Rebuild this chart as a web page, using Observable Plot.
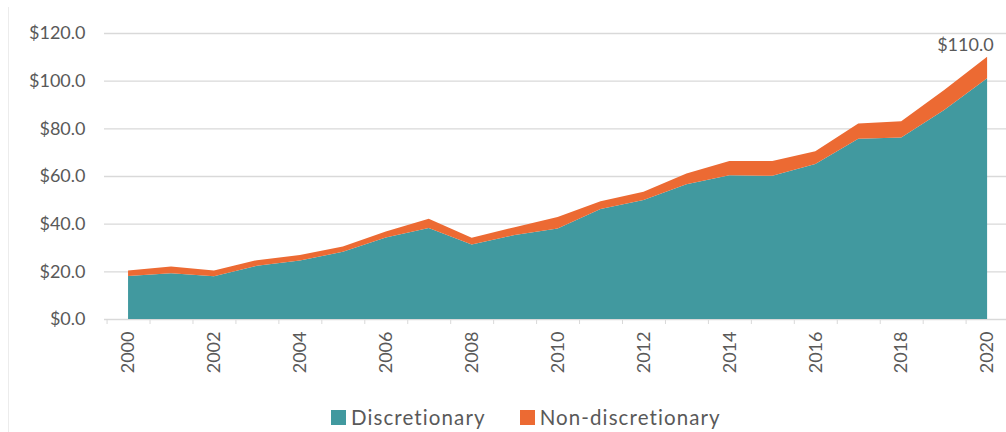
<!DOCTYPE html>
<html>
<head>
<meta charset="utf-8">
<script src="https://cdn.jsdelivr.net/npm/d3@7"></script>
<script src="https://cdn.jsdelivr.net/npm/@observablehq/plot@0.6"></script>
<style>
  html, body { margin: 0; padding: 0; background: #fff; }
  #wrap { position: relative; width: 1006px; height: 432px; overflow: hidden; font-family: Lato, "Open Sans", sans-serif; }
  #frame { position: absolute; left: 8px; top: 7px; width: 0; height: 425px; border-left: 1px solid #ececec; }
  #chart { position: absolute; left: 0; top: 0; }
  #legend { position: absolute; top: 405px; left: 331px; display: flex; align-items: center; font-size: 20.5px; letter-spacing: 1.1px; color: #595959; }
  #legend .item { display: flex; align-items: center; margin-right: 34px; }
  #legend .sw { width: 15px; height: 15px; margin-right: 5px; }
</style>
</head>
<body>
<div id="wrap">
  <div id="frame"></div>
  <div id="chart"></div>
  <div id="legend"></div>
</div>
<script>
// Spending by year, in billions of dollars
const years = [2000, 2001, 2002, 2003, 2004, 2005, 2006, 2007, 2008, 2009, 2010,
               2011, 2012, 2013, 2014, 2015, 2016, 2017, 2018, 2019, 2020];
const discretionary = [18.0, 19.2, 17.9, 22.3, 24.5, 28.2, 34.2, 38.2, 31.3, 35.2, 38.0,
                       46.2, 49.9, 56.5, 60.3, 60.1, 65.0, 75.6, 76.2, 87.7, 101.0];
const nonDiscretionary = [2.4, 2.8, 2.4, 2.4, 2.4, 2.2, 2.5, 3.9, 2.8, 3.3, 4.8,
                          3.2, 3.5, 4.6, 6.0, 6.2, 5.4, 6.4, 6.8, 8.4, 9.0];
const series = ["Discretionary", "Non-discretionary"];
const colors = ["#41999f", "#ec6a33"];
const yTicks = [0, 20, 40, 60, 80, 100, 120];
const yearLabels = [2000, 2002, 2004, 2006, 2008, 2010, 2012, 2014, 2016, 2018, 2020];
const totalLabel = "$110.0";

// long-format table for the stacked areas
const rows = [];
years.forEach((yr, i) => {
  rows.push({year: yr, series: series[0], value: discretionary[i]});
  rows.push({year: yr, series: series[1], value: nonDiscretionary[i]});
});
const lastYear = years[years.length - 1];
const lastTotal = discretionary[years.length - 1] + nonDiscretionary[years.length - 1];

// category boundaries for the small axis ticks
const boundaries = d3.range(years[0] - 0.5, lastYear + 1, 1);

const textColor = "#595959";
const gridColor = "#d9d9d9";

const chart = Plot.plot({
  width: 1006,
  height: 390,
  marginLeft: 104,
  marginRight: 0,
  marginTop: 33,
  marginBottom: 71,
  style: {fontFamily: "Lato, 'Open Sans', sans-serif", fontSize: "18px", color: textColor, background: "transparent"},
  x: {domain: [1999.44, 2020.44], label: null},
  y: {domain: [0, 120], label: null},
  color: {domain: series, range: colors},
  marks: [
    Plot.ruleY(yTicks, {stroke: gridColor, strokeWidth: 1.3}),
    Plot.areaY(rows, {x: "year", y: "value", fill: "series", order: series, curve: "linear"}),
    Plot.axisY(yTicks, {
      label: null, tickSize: 0, tickPadding: 19,
      tickFormat: d => "$" + d.toFixed(1),
      fill: textColor, fontSize: 18, letterSpacing: 1.2
    }),
    Plot.axisX(boundaries, {label: null, tickSize: 5, tickFormat: () => "", stroke: gridColor}),
    Plot.axisX(yearLabels, {
      label: null, tickSize: 0, tickPadding: 12, tickRotate: -90,
      tickFormat: d => String(d),
      fill: textColor, fontSize: 18, letterSpacing: 1
    }),
    Plot.text([{year: lastYear, total: lastTotal}], {
      x: "year", y: "total", text: () => totalLabel,
      textAnchor: "end", dx: 6, dy: -12,
      fill: textColor, fontSize: 18, letterSpacing: 1
    })
  ]
});
document.getElementById("chart").appendChild(chart);

// legend below the plot
const legend = document.getElementById("legend");
series.forEach((name, i) => {
  const item = document.createElement("div");
  item.className = "item";
  const sw = document.createElement("span");
  sw.className = "sw";
  sw.style.background = colors[i];
  const label = document.createElement("span");
  label.textContent = name;
  item.appendChild(sw);
  item.appendChild(label);
  legend.appendChild(item);
});
</script>
</body>
</html>
